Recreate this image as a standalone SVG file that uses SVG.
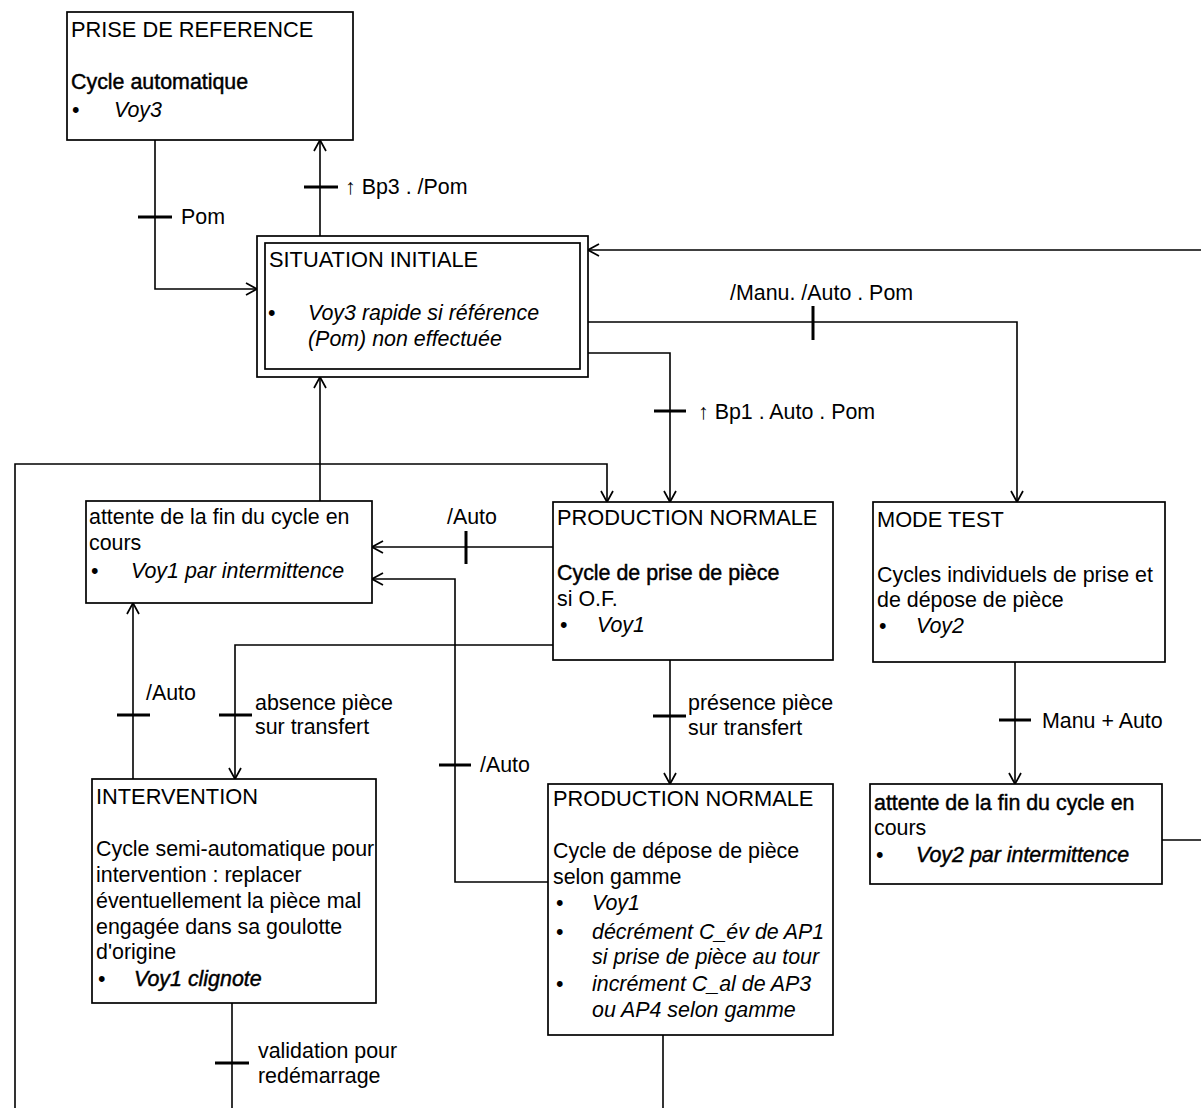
<svg xmlns="http://www.w3.org/2000/svg" width="1201" height="1108" viewBox="0 0 1201 1108">
  <style>
    .box { fill: #fff; stroke: #000; stroke-width: 1.7; }
    .wire { fill: none; stroke: #000; stroke-width: 1.6; }
    .tick { stroke: #000; stroke-width: 3; }
    text { font-family: "Liberation Sans", Arial, sans-serif; font-size: 21.4px; fill: #000; }
    .cap { font-size: 21.8px; }
    .i { font-style: italic; }
    .heavy { stroke: #000; stroke-width: 0.45; }
  </style>
  <defs>
    <marker id="arr" viewBox="0 0 14 14" refX="13" refY="7" markerWidth="14" markerHeight="14" markerUnits="userSpaceOnUse" orient="auto">
      <path d="M2,1 L13,7 L2,13" fill="none" stroke="#000" stroke-width="1.7"/>
    </marker>
  </defs>
  <rect width="1201" height="1108" fill="#fff"/>

  <!-- connectors -->
  <g id="connectors">
    <!-- PRISE DE REFERENCE -> SITUATION INITIALE -->
    <polyline class="wire" points="155,140 155,289 257,289" marker-end="url(#arr)"/>
    <line class="tick" x1="138" y1="217" x2="172" y2="217"/>
    <text x="181" y="224">Pom</text>

    <!-- SITUATION INITIALE -> PRISE DE REFERENCE -->
    <line class="wire" x1="320" y1="236" x2="320" y2="140" marker-end="url(#arr)"/>
    <line class="tick" x1="304" y1="187" x2="338" y2="187"/>
    <text x="345" y="194">↑ Bp3 . /Pom</text>

    <!-- return from the right edge -->
    <line class="wire" x1="1201" y1="250" x2="588" y2="250" marker-end="url(#arr)"/>

    <!-- SITUATION INITIALE -> MODE TEST -->
    <polyline class="wire" points="588,322 1017,322 1017,502" marker-end="url(#arr)"/>
    <line class="tick" x1="813" y1="306" x2="813" y2="340"/>
    <text x="730" y="300">/Manu. /Auto . Pom</text>

    <!-- SITUATION INITIALE -> PRODUCTION NORMALE (prise) -->
    <polyline class="wire" points="588,353 670,353 670,502" marker-end="url(#arr)"/>
    <line class="tick" x1="654" y1="411" x2="686" y2="411"/>
    <text x="698" y="419">↑ Bp1 . Auto . Pom</text>

    <!-- attente (gauche) -> SITUATION INITIALE -->
    <line class="wire" x1="320" y1="502" x2="320" y2="377" marker-end="url(#arr)"/>

    <!-- restart loop from the bottom left -->
    <polyline class="wire" points="15,1108 15,464 607,464 607,502" marker-end="url(#arr)"/>

    <!-- PRODUCTION NORMALE (prise) -> attente (gauche) -->
    <line class="wire" x1="553" y1="547" x2="372" y2="547" marker-end="url(#arr)"/>
    <line class="tick" x1="466" y1="531" x2="466" y2="564"/>
    <text x="447" y="524">/Auto</text>

    <!-- PRODUCTION NORMALE (dépose) -> attente (gauche) -->
    <polyline class="wire" points="548,882 455,882 455,579 372,579" marker-end="url(#arr)"/>
    <line class="tick" x1="439" y1="765" x2="471" y2="765"/>
    <text x="480" y="772">/Auto</text>

    <!-- PRODUCTION NORMALE (prise) -> INTERVENTION -->
    <polyline class="wire" points="553,645 235,645 235,779" marker-end="url(#arr)"/>
    <line class="tick" x1="219" y1="715" x2="252" y2="715"/>
    <text x="255" y="710">absence pièce</text>
    <text x="255" y="734">sur transfert</text>

    <!-- INTERVENTION -> attente (gauche) -->
    <line class="wire" x1="133" y1="779" x2="133" y2="603" marker-end="url(#arr)"/>
    <line class="tick" x1="117" y1="715" x2="150" y2="715"/>
    <text x="146" y="700">/Auto</text>

    <!-- PRODUCTION NORMALE (prise) -> PRODUCTION NORMALE (dépose) -->
    <line class="wire" x1="670" y1="660" x2="670" y2="784" marker-end="url(#arr)"/>
    <line class="tick" x1="653" y1="716" x2="686" y2="716"/>
    <text x="688" y="710">présence pièce</text>
    <text x="688" y="735">sur transfert</text>

    <!-- MODE TEST -> attente (droite) -->
    <line class="wire" x1="1015" y1="662" x2="1015" y2="784" marker-end="url(#arr)"/>
    <line class="tick" x1="999" y1="720" x2="1031" y2="720"/>
    <text x="1042" y="728">Manu + Auto</text>

    <!-- attente (droite) -> off to the right -->
    <line class="wire" x1="1162" y1="840" x2="1201" y2="840"/>

    <!-- INTERVENTION -> further down -->
    <line class="wire" x1="232" y1="1003" x2="232" y2="1108"/>
    <line class="tick" x1="215" y1="1063" x2="249" y2="1063"/>
    <text x="258" y="1058">validation pour</text>
    <text x="258" y="1083">redémarrage</text>

    <!-- PRODUCTION NORMALE (dépose) -> further down -->
    <line class="wire" x1="663" y1="1035" x2="663" y2="1108"/>
  </g>

  <!-- steps -->
  <g id="prise-reference">
    <rect class="box" x="67" y="12" width="286" height="128"/>
    <text x="71" y="37" class="cap">PRISE DE REFERENCE</text>
    <text x="71" y="89" class="heavy">Cycle automatique</text>
    <text x="72" y="117">•</text>
    <text x="114" y="117" class="i">Voy3</text>
  </g>

  <g id="situation-initiale">
    <rect class="box" x="257" y="236" width="331" height="141"/>
    <rect class="box" x="265" y="243" width="315" height="126"/>
    <text x="269" y="267" class="cap">SITUATION INITIALE</text>
    <text x="268" y="320">•</text>
    <text x="308" y="320" class="i">Voy3 rapide si référence</text>
    <text x="308" y="346" class="i">(Pom) non effectuée</text>
  </g>

  <g id="attente-production">
    <rect class="box" x="86" y="501" width="286" height="102"/>
    <text x="89" y="524">attente de la fin du cycle en</text>
    <text x="89" y="550">cours</text>
    <text x="91" y="578">•</text>
    <text x="131" y="578" class="i">Voy1 par intermittence</text>
  </g>

  <g id="production-prise">
    <rect class="box" x="553" y="502" width="280" height="158"/>
    <text x="557" y="525" class="cap">PRODUCTION NORMALE</text>
    <text x="557" y="580" class="heavy">Cycle de prise de pièce</text>
    <text x="557" y="606">si O.F.</text>
    <text x="560" y="632">•</text>
    <text x="597" y="632" class="i">Voy1</text>
  </g>

  <g id="mode-test">
    <rect class="box" x="873" y="502" width="292" height="160"/>
    <text x="877" y="527" class="cap">MODE TEST</text>
    <text x="877" y="582">Cycles individuels de prise et</text>
    <text x="877" y="607">de dépose de pièce</text>
    <text x="879" y="633">•</text>
    <text x="916" y="633" class="i">Voy2</text>
  </g>

  <g id="intervention">
    <rect class="box" x="92" y="779" width="284" height="224"/>
    <text x="96" y="804" class="cap">INTERVENTION</text>
    <text x="96" y="856">Cycle semi-automatique pour</text>
    <text x="96" y="882">intervention : replacer</text>
    <text x="96" y="908">éventuellement la pièce mal</text>
    <text x="96" y="934">engagée dans sa goulotte</text>
    <text x="96" y="959">d'origine</text>
    <text x="98" y="986">•</text>
    <text x="134" y="986" class="i heavy">Voy1 clignote</text>
  </g>

  <g id="production-depose">
    <rect class="box" x="548" y="784" width="285" height="251"/>
    <text x="553" y="806" class="cap">PRODUCTION NORMALE</text>
    <text x="553" y="858">Cycle de dépose de pièce</text>
    <text x="553" y="884">selon gamme</text>
    <text x="556" y="910">•</text>
    <text x="592" y="910" class="i">Voy1</text>
    <text x="556" y="939">•</text>
    <text x="592" y="939" class="i">décrément C_év de AP1</text>
    <text x="592" y="964" class="i">si prise de pièce au tour</text>
    <text x="556" y="991">•</text>
    <text x="592" y="991" class="i">incrément C_al de AP3</text>
    <text x="592" y="1017" class="i">ou AP4 selon gamme</text>
  </g>

  <g id="attente-test">
    <rect class="box" x="870" y="784" width="292" height="100"/>
    <text x="874" y="810" class="heavy">attente de la fin du cycle en</text>
    <text x="874" y="835">cours</text>
    <text x="876" y="862">•</text>
    <text x="916" y="862" class="i heavy">Voy2 par intermittence</text>
  </g>
</svg>
